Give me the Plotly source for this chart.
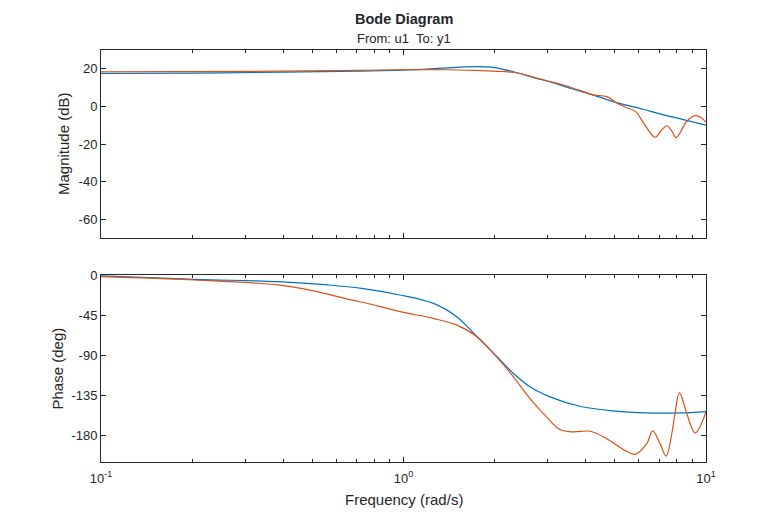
import plotly.graph_objects as go

# Frequency response (rad/s, dB, deg)
BLUE = "#0072BD"
ORANGE = "#D95319"

w_mag_a = [0.1, 0.2, 0.4, 0.7, 1.0, 1.3, 1.55, 1.75, 1.95, 2.15, 2.37, 2.7,
           3.13, 3.6, 4.24, 5.07, 6.2, 7.05, 8.41, 10]
mag_a = [17.5, 17.7, 18.2, 18.8, 19.3, 20.2, 20.9, 21.2, 20.9, 19.6, 17.9, 15.3,
         12.5, 9.4, 6.0, 2.0, -1.5, -4.0, -7.0, -10.0]

w_mag_b = [0.1, 0.3, 0.6, 1.0, 1.4, 1.75, 2.1, 2.37, 2.7, 3.0, 3.29, 3.55,
           3.83, 4.24, 4.7, 5.07, 5.47, 5.83, 6.22, 6.78, 7.1, 7.42, 7.7,
           7.97, 8.64, 9.2, 9.6, 10]
mag_b = [18.4, 18.6, 19.0, 19.5, 19.5, 19.1, 18.6, 17.9, 15.5, 13.5, 11.9, 10.3,
         8.5, 6.1, 5.2, 1.8, -0.7, -2.5, -8.8, -16.4, -13.0, -10.3, -13.0,
         -16.6, -7.9, -4.9, -5.8, -8.5]

w_ph_a = [0.1, 0.205, 0.385, 0.564, 0.727, 0.974, 1.256, 1.5, 1.75, 2.03,
          2.31, 2.62, 3.05, 3.83, 4.94, 6.37, 8.2, 10]
ph_a = [-1.1, -4.9, -7.5, -11.2, -15.0, -22.5, -31.9, -46.9, -69.4, -91.1,
        -110.6, -125.6, -136.9, -147.4, -152.6, -154.9, -154.9, -153.4]

w_ph_b = [0.1, 0.205, 0.385, 0.5, 0.64, 0.826, 0.974, 1.256, 1.5, 1.75, 2.03,
          2.31, 2.62, 2.97, 3.29, 3.64, 4.14, 4.7, 5.34, 5.83, 6.37, 6.66,
          7.05, 7.38, 7.71, 7.9, 8.17, 8.64, 9.2, 10]
ph_b = [-1.9, -5.6, -11.2, -17.6, -26.3, -34.9, -41.2, -48.8, -56.3, -69.4, -91.9,
        -114.4, -138.8, -159.4, -173.6, -176.2, -175.5, -183.8, -196.1, -201.4,
        -189.4, -175.1, -189.4, -203.3, -178.0, -155.0, -132.0, -155.6, -177.4,
        -153.8]

# axis ticks
freq_ticks = [0.1, 1, 10]
freq_labels = ["10<sup>-1</sup>", "10<sup>0</sup>", "10<sup>1</sup>"]
freq_minor = [k * d for d in (0.1, 1) for k in range(2, 10)]
mag_ticks = [20, 0, -20, -40, -60]
mag_labels = ["20", "0", "-20", "-40", "-60"]
ph_ticks = [0, -45, -90, -135, -180]
ph_labels = ["0", "-45", "-90", "-135", "-180"]

FONT = "Liberation Sans, Arial, sans-serif"
AXCOL = "#262626"

fig = go.Figure()

fig.add_trace(go.Scatter(x=w_mag_a, y=mag_a, mode="lines", line_shape="spline",
                         line=dict(color=BLUE, width=1.2), xaxis="x", yaxis="y"))
fig.add_trace(go.Scatter(x=w_mag_b, y=mag_b, mode="lines", line_shape="spline",
                         line=dict(color=ORANGE, width=1.2), xaxis="x", yaxis="y"))
fig.add_trace(go.Scatter(x=w_ph_a, y=ph_a, mode="lines", line_shape="spline",
                         line=dict(color=BLUE, width=1.2), xaxis="x2", yaxis="y2"))
fig.add_trace(go.Scatter(x=w_ph_b, y=ph_b, mode="lines", line_shape="spline",
                         line=dict(color=ORANGE, width=1.2), xaxis="x2", yaxis="y2"))

xcommon = dict(
    type="log", range=[-1, 1],
    showline=True, linecolor=AXCOL, linewidth=1, mirror="ticks",
    ticks="inside", ticklen=5, tickcolor=AXCOL, tickwidth=1,
    tickvals=freq_ticks, ticktext=freq_labels,
    minor=dict(tickvals=freq_minor, ticks="inside", ticklen=3,
               tickcolor=AXCOL, tickwidth=1),
    showgrid=False, zeroline=False,
    tickfont=dict(size=13, color=AXCOL),
)
ycommon = dict(
    showline=True, linecolor=AXCOL, linewidth=1, mirror="ticks",
    ticks="inside", ticklen=5, tickcolor=AXCOL, tickwidth=1,
    showgrid=False, zeroline=False,
    tickfont=dict(size=13, color=AXCOL),
)

MAG_DOM = [0.5437, 1]
PH_DOM = [0, 0.4539]

# the page adds an 8px body margin, so margins are shifted by 8px
fig.update_layout(
    width=780, height=520,
    font=dict(family=FONT, color=AXCOL),
    paper_bgcolor="white", plot_bgcolor="white",
    showlegend=False,
    margin=dict(l=93, r=82, t=42, b=66),
    xaxis=dict(xcommon, anchor="y", domain=[0, 1], showticklabels=False),
    xaxis2=dict(xcommon, anchor="y2", domain=[0, 1], matches="x",
                ticklabelstandoff=4),
    yaxis=dict(ycommon, anchor="x", domain=MAG_DOM, range=[-70, 30],
               tickvals=mag_ticks, ticktext=mag_labels),
    yaxis2=dict(ycommon, anchor="x2", domain=PH_DOM, range=[-210, 0],
                tickvals=ph_ticks, ticktext=ph_labels),
    annotations=[
        dict(text="<b>Bode Diagram</b>", x=0.5, y=1.0, yanchor="bottom", yshift=21,
             xref="paper", yref="paper", showarrow=False, font=dict(size=14.5)),
        dict(text="From: u1\u00a0 To: y1", x=0.5, y=1.0, yanchor="bottom", yshift=2,
             xref="paper", yref="paper", showarrow=False, font=dict(size=13)),
        dict(text="Magnitude (dB)", textangle=-90, x=0, xshift=-37,
             y=sum(MAG_DOM) / 2, xanchor="center", yanchor="middle",
             xref="paper", yref="paper", showarrow=False, font=dict(size=15)),
        dict(text="Phase (deg)", textangle=-90, x=0, xshift=-44,
             y=sum(PH_DOM) / 2, xanchor="center", yanchor="middle",
             xref="paper", yref="paper", showarrow=False, font=dict(size=15)),
        dict(text="Frequency (rad/s)", x=0.5, y=0, yshift=-37,
             xanchor="center", yanchor="middle",
             xref="paper", yref="paper", showarrow=False, font=dict(size=15)),
    ],
)

fig.write_html("out.html")
